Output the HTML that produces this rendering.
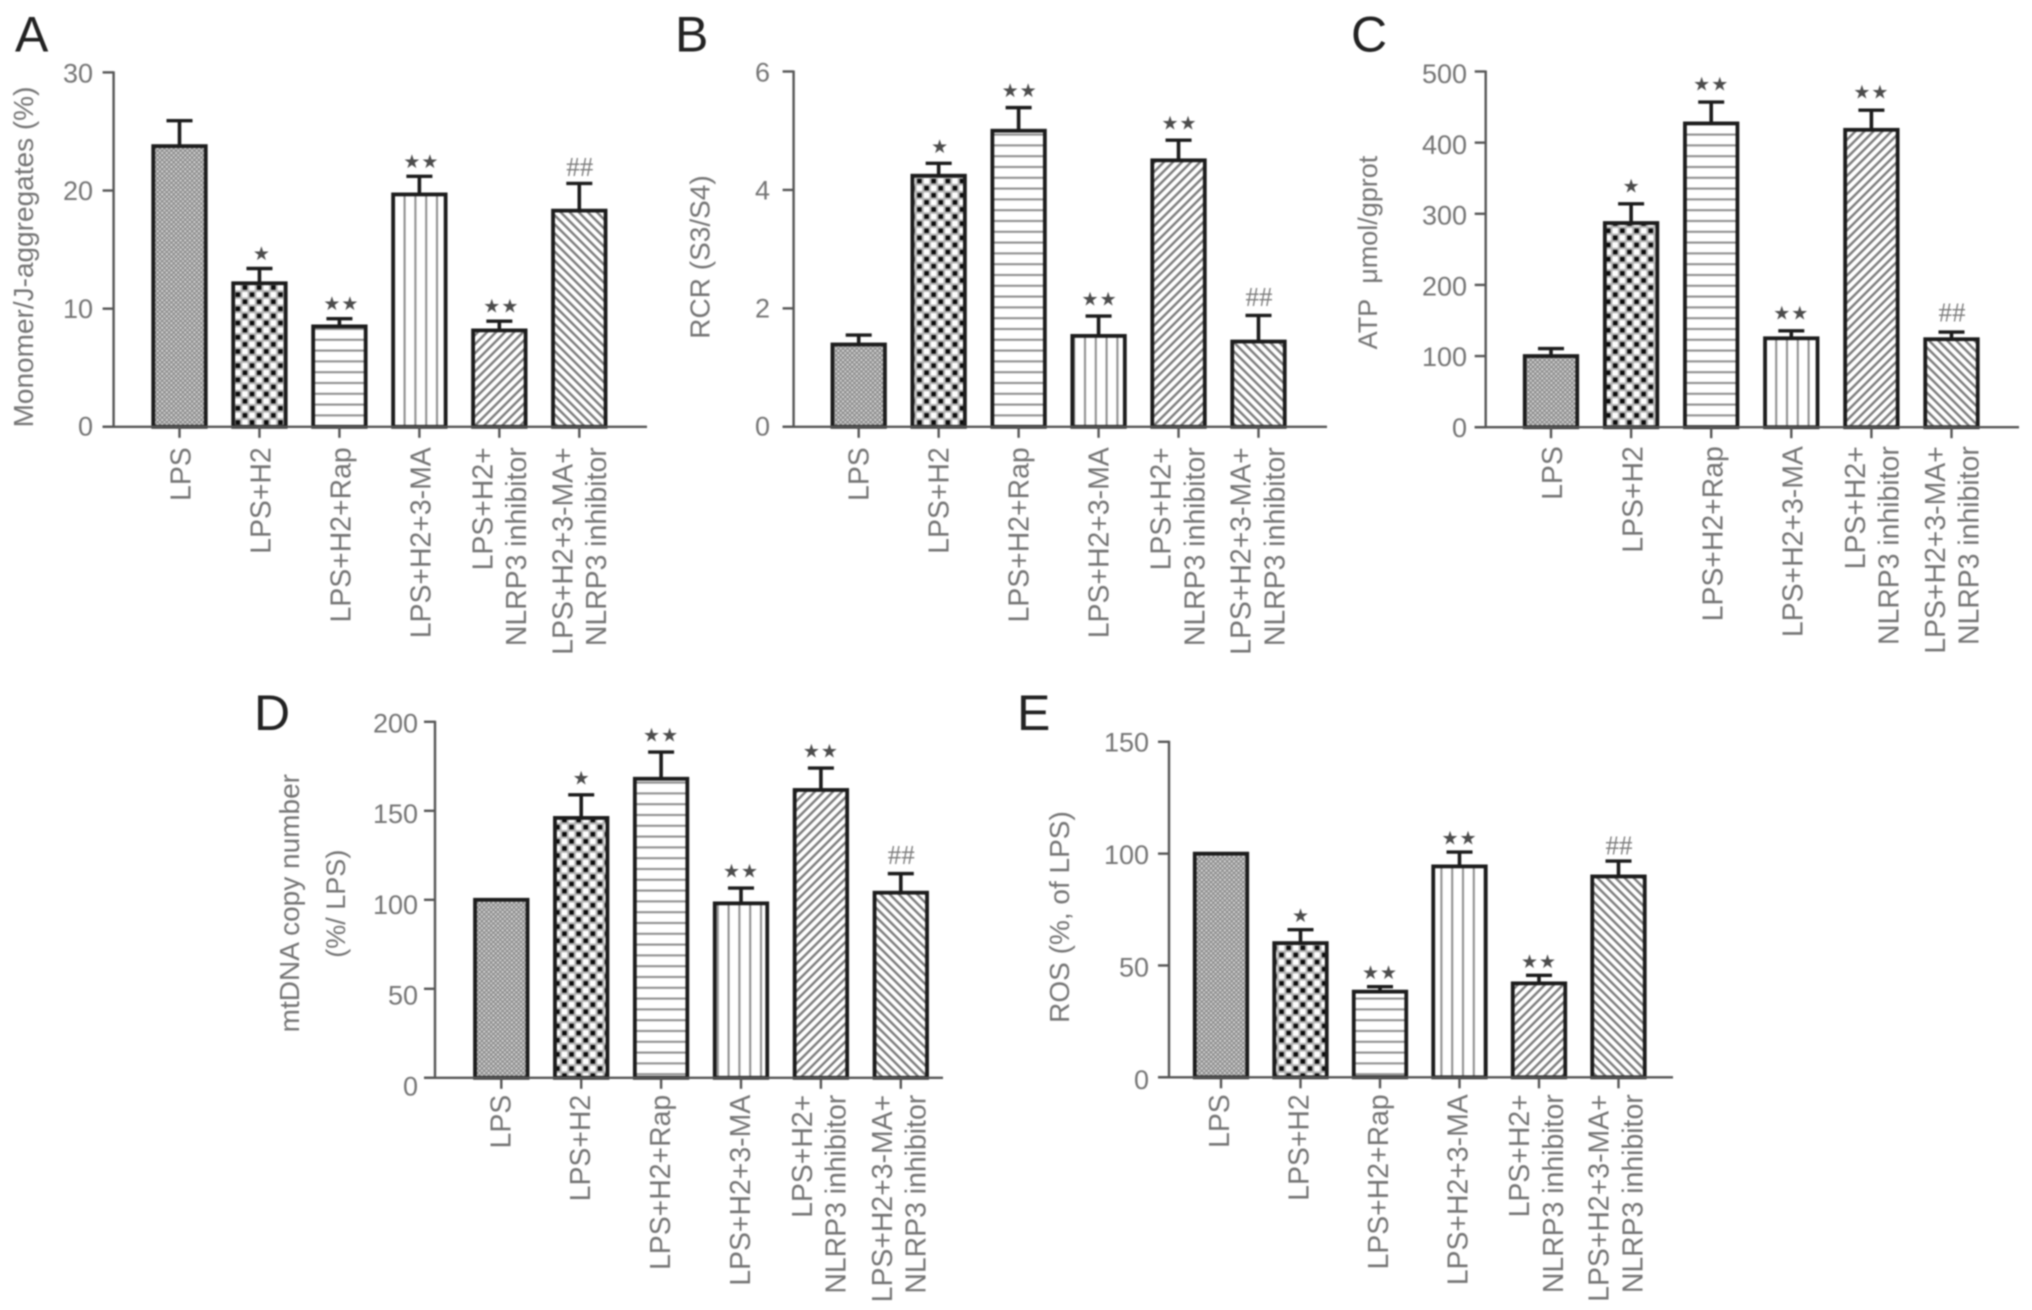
<!DOCTYPE html>
<html lang="en">
<head>
<meta charset="utf-8">
<title>Mitochondrial function bar charts</title>
<style>
html,body{margin:0;padding:0;background:#fff;width:2032px;height:1310px;overflow:hidden}
svg{display:block;filter:blur(0.8px)}
text{font-family:"Liberation Sans",sans-serif}
</style>
</head>
<body>
<svg id="figure" xmlns="http://www.w3.org/2000/svg" width="2032" height="1310" viewBox="0 0 2032 1310">
<defs>
<pattern id="fill-0" patternUnits="userSpaceOnUse" width="4.6" height="4.6">
<rect width="4.6" height="4.6" fill="#8e8e8e"/>
<rect x="0.3" y="0.3" width="1.8" height="1.8" fill="#e6e6e6"/>
<rect x="2.6" y="2.6" width="1.8" height="1.8" fill="#dcdcdc"/>
</pattern>
<pattern id="fill-1" patternUnits="userSpaceOnUse" width="14.2" height="14.2">
<rect width="14.2" height="14.2" fill="#b4b4b4"/>
<rect x="1.3" y="1.3" width="4.5" height="4.5" fill="#0a0a0a"/>
<rect x="8.4" y="8.4" width="4.5" height="4.5" fill="#0a0a0a"/>
<rect x="7.9" y="0.8" width="5.5" height="5.5" fill="#fff"/>
<rect x="0.8" y="7.9" width="5.5" height="5.5" fill="#fff"/>
</pattern>
<pattern id="fill-2" patternUnits="userSpaceOnUse" width="10.8" height="10.8">
<rect width="10.8" height="10.8" fill="#fff"/>
<rect y="4" width="10.8" height="2" fill="#8c8c8c"/>
</pattern>
<pattern id="fill-3" patternUnits="userSpaceOnUse" width="10.8" height="10.8">
<rect width="10.8" height="10.8" fill="#fff"/>
<rect x="4" width="2" height="10.8" fill="#8c8c8c"/>
</pattern>
<pattern id="fill-4" patternUnits="userSpaceOnUse" width="6.4" height="6.4" patternTransform="rotate(45)">
<rect width="6.4" height="6.4" fill="#fff"/>
<rect x="2" width="2.4" height="6.4" fill="#7c7c7c"/>
</pattern>
<pattern id="fill-5" patternUnits="userSpaceOnUse" width="6.4" height="6.4" patternTransform="rotate(-45)">
<rect width="6.4" height="6.4" fill="#fff"/>
<rect x="2" width="2.4" height="6.4" fill="#7c7c7c"/>
</pattern>
</defs>
</svg>
<script>
const categories = [["LPS"], ["LPS+H2"], ["LPS+H2+Rap"], ["LPS+H2+3-MA"], ["LPS+H2+", "NLRP3 inhibitor"], ["LPS+H2+3-MA+", "NLRP3 inhibitor"]];
const significance = ["", "\u2605", "\u2605\u2605", "\u2605\u2605", "\u2605\u2605", "##"];

const ticksA = [0, 10, 20, 30];
const valuesA = [23.76, 12.15, 8.5, 19.67, 8.16, 18.3];
const errorsA = [2.15, 1.25, 0.65, 1.53, 0.78, 2.3];

const ticksB = [0, 2, 4, 6];
const valuesB = [1.39, 4.24, 5.0, 1.535, 4.5, 1.44];
const errorsB = [0.16, 0.21, 0.39, 0.335, 0.34, 0.44];

const ticksC = [0, 100, 200, 300, 400, 500];
const valuesC = [100, 287, 427, 125, 418, 123.7];
const errorsC = [10.6, 27, 30, 10.5, 27.6, 10];

const ticksD = [0, 50, 100, 150, 200];
const valuesD = [100, 146, 168, 98, 161.7, 104];
const errorsD = [0, 13, 15, 8.6, 12.3, 10.7];

const ticksE = [0, 50, 100, 150];
const valuesE = [100, 60, 38.3, 94.3, 42, 89.8];
const errorsE = [0, 6, 2.2, 6.4, 3.6, 6.9];

const panels = [
  {key: 'a', letter: 'A', letterX: 15, letterY: 51.5, ticks: ticksA, values: valuesA, errors: errorsA,
   axisX: 113.6, axisEnd: 647, top: 72.4, base: 426.8, first: 179.5, step: 79.96, labelGap: 20.5, labelDx: -1.5, markGap: 15.5, markDx: 2,
   tickRight: 93, shiftTop: 0.5, shiftBottom: -1,
   titles: [{text: 'Monomer/J-aggregates (%)', x: 33, y: 257, size: 28}]},
  {key: 'b', letter: 'B', letterX: 675, letterY: 51.5, ticks: ticksB, values: valuesB, errors: errorsB,
   axisX: 793.6, axisEnd: 1327, top: 71.5, base: 426.8, first: 858.7, step: 79.96, labelGap: 20.5, labelDx: -2.5, markGap: 17.5, markDx: 1,
   tickRight: 770, shiftTop: 0.5, shiftBottom: -1,
   titles: [{text: 'RCR (S3/S4)', x: 709.5, y: 257, size: 28}]},
  {key: 'c', letter: 'C', letterX: 1351, letterY: 51.5, ticks: ticksC, values: valuesC, errors: errorsC,
   axisX: 1485.7, axisEnd: 2019, top: 71.5, base: 427.2, first: 1551, step: 80.1, labelGap: 19, labelDx: -1.3, markGap: 18.5, markDx: 0,
   tickRight: 1467, shiftTop: 2, shiftBottom: 0,
   titles: [{text: 'ATP\u00a0\u00a0\u03bcmol/gprot', x: 1377, y: 252.5, size: 27}]},
  {key: 'd', letter: 'D', letterX: 254, letterY: 730, ticks: ticksD, values: valuesD, errors: errorsD,
   axisX: 435, axisEnd: 943, top: 721.8, base: 1077.8, first: 501.3, step: 79.9, labelGap: 17, labelDx: -3.5, markGap: 17.5, markDx: 0,
   tickRight: 418, shiftTop: 1, shiftBottom: 8,
   titles: [{text: 'mtDNA copy number', x: 299, y: 903.2, size: 28}, {text: '(%/ LPS)', x: 345, y: 903.7, size: 27}]},
  {key: 'e', letter: 'E', letterX: 1017, letterY: 730, ticks: ticksE, values: valuesE, errors: errorsE,
   axisX: 1169, axisEnd: 1673, top: 741.8, base: 1077.3, first: 1221, step: 79.5, labelGap: 17, labelDx: -4.5, markGap: 14.5, markDx: 0,
   tickRight: 1149, shiftTop: 0, shiftBottom: 2,
   titles: [{text: 'ROS (%, of LPS)', x: 1069, y: 917, size: 28}]}
];

const SVG_NS = 'http://www.w3.org/2000/svg';
const figure = document.getElementById('figure');
const AXIS_COLOR = '#565656';
const TEXT_COLOR = '#757575';
const BAR_COLOR = '#1c1c1c';

function draw(parent, tag, attrs, content) {
  const node = document.createElementNS(SVG_NS, tag);
  for (const k in attrs) node.setAttribute(k, attrs[k]);
  if (content !== undefined) node.textContent = content;
  parent.appendChild(node);
  return node;
}

panels.forEach(function (p) {
  const maxTick = p.ticks[p.ticks.length - 1];
  const yScale = function (v) { return p.base - (v / maxTick) * (p.base - p.top); };
  const xScale = function (i) { return p.first + i * p.step; };

  const group = draw(figure, 'g', {});
  
  

  const letter = draw(group, 'text', {x: p.letterX, y: p.letterY, 'font-size': 50, fill: '#222'}, p.letter);
  
  

  p.titles.forEach(function (t, n) {
    const title = draw(group, 'text', {x: 0, y: 0, transform: 'translate(' + t.x + ' ' + t.y + ') rotate(-90)', 'text-anchor': 'middle', 'font-size': t.size, fill: TEXT_COLOR}, t.text);
    
    
  });

  p.values.forEach(function (v, i) {
    const cx = xScale(i);
    const err = p.errors[i];
    const barW = 52.5;
    if (err > 0) {
      const stem = draw(group, 'line', {x1: cx, x2: cx, y1: yScale(v), y2: yScale(v + err), stroke: BAR_COLOR, 'stroke-width': 3.6});
      
      
      const cap = draw(group, 'line', {x1: cx - 13, x2: cx + 13, y1: yScale(v + err), y2: yScale(v + err), stroke: BAR_COLOR, 'stroke-width': 3.4});
      
      
    }
    const bar = draw(group, 'rect', {x: cx - barW / 2, y: yScale(v), width: barW, height: p.base - yScale(v), fill: 'url(#fill-' + i + ')', stroke: BAR_COLOR, 'stroke-width': 3.8});
    
    

    const sig = significance[i];
    if (sig) {
      const capY = yScale(v + err);
      const isHash = sig === '##';
      const markAttrs = isHash
        ? {x: cx + 0.5, y: capY - p.markGap + 8, 'text-anchor': 'middle', 'font-size': 27, fill: '#7c7c7c', style: 'font-family:"Liberation Serif",serif'}
        : {x: cx + p.markDx, y: capY - p.markGap + 7, 'text-anchor': 'middle', 'font-size': 19, 'letter-spacing': sig.length > 1 ? 1 : 0, fill: '#4c4c4c', style: 'font-family:"DejaVu Sans",sans-serif'};
      const mark = draw(group, 'text', markAttrs, sig);
      
      
    }

    const tick = draw(group, 'line', {x1: cx, x2: cx, y1: p.base, y2: p.base + 11, stroke: AXIS_COLOR, 'stroke-width': 2.4});
    
    

    const lines = categories[i];
    lines.forEach(function (line, n) {
      const offset = lines.length === 1 ? 12.5 : (n === 0 ? -5.3 : 28.3);
      const bx = cx + offset + p.labelDx;
      const by = p.base + p.labelGap;
      const label = draw(group, 'text', {x: 0, y: 0, transform: 'translate(' + bx + ' ' + by + ') rotate(-90)', 'text-anchor': 'end', 'font-size': 28.4, fill: TEXT_COLOR}, line);
      
      
    });
  });

  const yAxis = draw(group, 'line', {x1: p.axisX, x2: p.axisX, y1: p.top - 1, y2: p.base + 1, stroke: AXIS_COLOR, 'stroke-width': 2.4});
  
  

  const xAxis = draw(group, 'line', {x1: p.axisX - 11, x2: p.axisEnd, y1: p.base, y2: p.base, stroke: AXIS_COLOR, 'stroke-width': 2.4});
  
  

  p.ticks.forEach(function (t) {
    const ty = yScale(t);
    const frac = t / maxTick;
    const shift = p.shiftBottom + (p.shiftTop - p.shiftBottom) * frac;
    const yTick = draw(group, 'line', {x1: p.axisX - 11, x2: p.axisX, y1: ty, y2: ty, stroke: AXIS_COLOR, 'stroke-width': 2.4});
    
    
    const tickLabel = draw(group, 'text', {x: p.tickRight, y: ty + 9.6 + shift, 'text-anchor': 'end', 'font-size': 27, fill: TEXT_COLOR}, String(t));
    
    
  });
});
</script>
</body>
</html>
